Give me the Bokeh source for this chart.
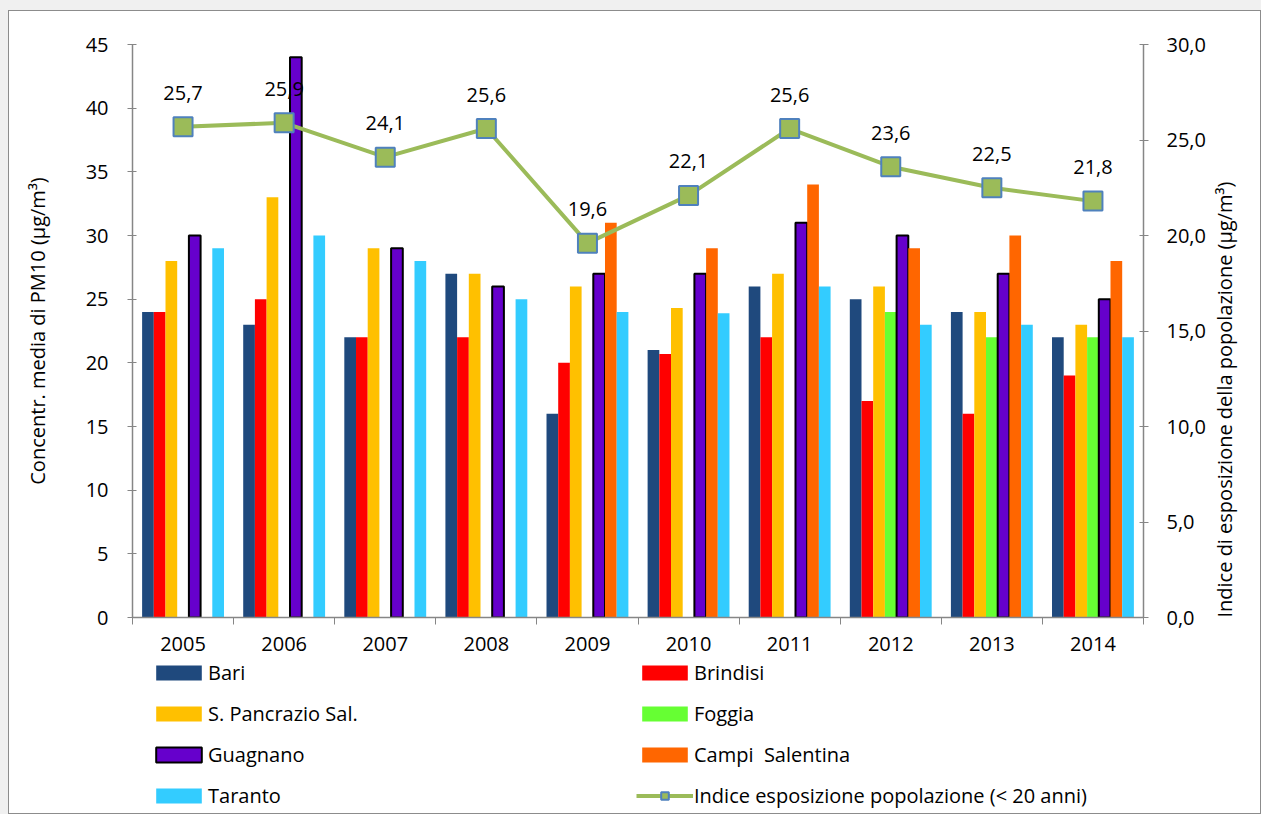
import math
from bokeh.plotting import figure
from bokeh.layouts import column
from bokeh.models import (ColumnDataSource, Range1d, LinearAxis, FixedTicker,
                          Legend, LegendItem)
from bokeh.transform import dodge
from bokeh.core.properties import value
from bokeh.embed import file_html
from bokeh.resources import INLINE

NaN = float("nan")

years = [2005, 2006, 2007, 2008, 2009, 2010, 2011, 2012, 2013, 2014]
bari = [24, 23, 22, 27, 16, 21, 26, 25, 24, 22]
brindisi = [24, 25, 22, 22, 20, 20.7, 22, 17, 16, 19]
s_pancrazio = [28, 33, 29, 27, 26, 24.3, 27, 26, 24, 23]
foggia = [NaN, NaN, NaN, NaN, NaN, NaN, NaN, 24, 22, 22]
guagnano = [30, 44, 29, 26, 27, 27, 31, 30, 27, 25]
campi = [NaN, NaN, NaN, NaN, 31, 29, 34, 29, 30, 28]
taranto = [29, 30, 28, 25, 24, 23.9, 26, 23, 23, 22]
indice = [25.7, 25.9, 24.1, 25.6, 19.6, 22.1, 25.6, 23.6, 22.5, 21.8]

series_names = ["Bari", "Brindisi", "S. Pancrazio Sal.", "Foggia",
                "Guagnano", "Campi  Salentina", "Taranto"]
series_values = [bari, brindisi, s_pancrazio, foggia, guagnano, campi, taranto]
series_colors = ["#1F497D", "#FF0000", "#FFC000", "#66FF33",
                 "#6600CC", "#FF6600", "#33CCFF"]
line_label = "Indice esposizione popolazione (< 20 anni)"
left_ticks = [0, 5, 10, 15, 20, 25, 30, 35, 40, 45]
right_ticks = [0, 5, 10, 15, 20, 25, 30]

FONT = "Open Sans"
FS = "20px"
AXC = "#868686"
LINE_C = "#9BBB59"
MARK_C = "#4F81BD"

data = {"year": years, "indice": indice,
        "indice_lbl": [f"{v:.1f}".replace(".", ",") for v in indice]}
for i, vals in enumerate(series_values):
    data[f"s{i}"] = vals
src = ColumnDataSource(data)

W = 1251
H1 = 648
H2 = 154

p = figure(width=W, height=H1, output_backend="svg", toolbar_location=None,
           x_range=Range1d(2004.5, 2014.5), y_range=Range1d(0, 45),
           min_border_left=123, min_border_right=117,
           min_border_top=33, min_border_bottom=H1 - 606)
p.extra_y_ranges = {"idx": Range1d(0, 30)}
p.grid.visible = False
p.outline_line_color = None
p.background_fill_color = "white"
p.border_fill_color = "white"

bw = 0.1157
for i, (name, col) in enumerate(zip(series_names, series_colors)):
    kw = dict(line_color=None)
    if name == "Guagnano":
        kw = dict(line_color="black", line_width=2)
    p.vbar(x=dodge("year", (i - 3) * bw, range=p.x_range), top=f"s{i}",
           width=bw, bottom=0, fill_color=col, source=src, **kw)

p.line("year", "indice", source=src, y_range_name="idx",
       line_color=LINE_C, line_width=4)
p.scatter("year", "indice", source=src, y_range_name="idx", marker="square",
          size=19, fill_color=LINE_C, line_color=MARK_C, line_width=2)
p.text("year", "indice", text="indice_lbl", source=src, y_range_name="idx",
       text_align="center", text_baseline="middle", y_offset=-34,
       text_font=value(FONT), text_font_size=FS, text_color="black")

# axes
xa = p.xaxis[0]
xa.ticker = FixedTicker(ticks=years,
                        minor_ticks=[y - 0.5 for y in years] + [years[-1] + 0.5])
xa.major_tick_in = 0
xa.major_tick_out = 0
xa.minor_tick_in = 0
xa.minor_tick_out = 7
xa.minor_tick_line_color = AXC
xa.axis_line_color = AXC
xa.axis_line_width = 1.5
xa.major_label_text_font = FONT
xa.major_label_text_font_size = FS
xa.major_label_text_color = "black"
xa.major_label_standoff = 12

ya = p.yaxis[0]
ya.ticker = FixedTicker(ticks=left_ticks, minor_ticks=[])
ya.major_tick_in = 4
ya.major_tick_out = 5
ya.major_tick_line_color = AXC
ya.axis_line_color = AXC
ya.axis_line_width = 1.5
ya.major_label_text_font = FONT
ya.major_label_text_font_size = FS
ya.major_label_text_color = "black"
ya.major_label_standoff = 19
ya.axis_label = "Concentr. media di PM10 (µg/m³)"
ya.axis_label_text_font = FONT
ya.axis_label_text_font_size = FS
ya.axis_label_text_font_style = "normal"
ya.axis_label_text_color = "black"
ya.axis_label_standoff = 32

ra = LinearAxis(y_range_name="idx",
                ticker=FixedTicker(ticks=right_ticks, minor_ticks=[]),
                major_label_overrides={t: f"{t:.1f}".replace(".", ",") for t in right_ticks})
ra.major_tick_in = 4
ra.major_tick_out = 5
ra.major_tick_line_color = AXC
ra.axis_line_color = AXC
ra.axis_line_width = 1.5
ra.major_label_text_font = FONT
ra.major_label_text_font_size = FS
ra.major_label_text_color = "black"
ra.major_label_standoff = 18
ra.axis_label = "Indice di esposizione della popolazione  (µg/m³)"
ra.axis_label_text_font = FONT
ra.axis_label_text_font_size = FS
ra.axis_label_text_font_style = "normal"
ra.axis_label_text_color = "black"
ra.axis_label_standoff = 16
ra.axis_label_orientation = math.pi / 2
if "axis_label_align" in ra.properties():
    ra.axis_label_align = "start"
p.add_layout(ra, "right")

# legend panel: proxy renderers hold a single NaN point, so they draw nothing
q = figure(width=W, height=H2, output_backend="svg", toolbar_location=None,
           x_axis_type=None, y_axis_type=None, min_border=0,
           x_range=Range1d(0, 1), y_range=Range1d(0, 1))
q.grid.visible = False
q.outline_line_color = None
q.border_fill_color = "white"
proxy = ColumnDataSource(dict(x=[NaN], y=[NaN]))
items = []
for name, col in zip(series_names, series_colors):
    kw = dict(line_color=None)
    if name == "Guagnano":
        kw = dict(line_color="black", line_width=2)
    r = q.vbar(x="x", top="y", width=0.1, fill_color=col, source=proxy, **kw)
    items.append(LegendItem(label=name, renderers=[r]))
lr = q.line("x", "y", source=proxy, line_color=LINE_C, line_width=4)
sr = q.scatter("x", "y", source=proxy, marker="square", size=14,
               fill_color=LINE_C, line_color=MARK_C, line_width=2)
items.append(LegendItem(label=line_label, renderers=[lr, sr]))

leg = Legend(items=items, orientation="horizontal", ncols=2,
             location=(18, 4),
             label_text_font=FONT, label_text_font_size=FS, label_text_color="black",
             glyph_width=57, glyph_height=19, label_standoff=1,
             label_width=414, label_height=20, spacing=14,
             padding=0, margin=0, border_line_color=None,
             background_fill_alpha=0)
q.add_layout(leg, "center")

layout = column(p, q, spacing=0,
                styles={"border": "1px solid #8c8c8c", "margin-left": "8px",
                        "margin-top": "10px", "background-color": "white",
                        "box-shadow": "0 0 0 14px #f0f0f0"})

open("out.html", "w").write(file_html(layout, INLINE))
